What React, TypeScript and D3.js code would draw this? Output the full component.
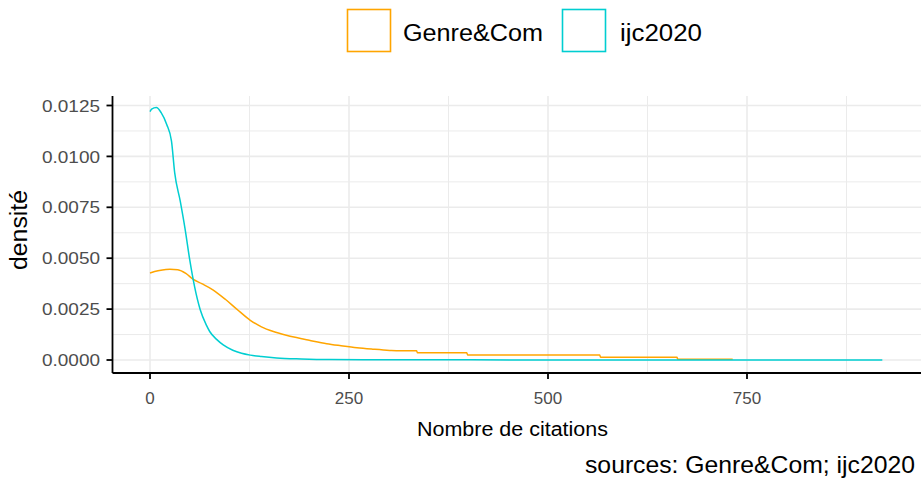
import React from "react";
import * as d3 from "d3";

const genreX = [0, 10, 20, 25, 35, 45, 54, 65, 79, 95, 109, 126, 140, 155, 170, 184, 200, 222, 240, 260, 280, 301, 314, 335, 336, 398, 399, 565, 566, 662, 663, 732];
const genreY = [0.00427, 0.00438, 0.00445, 0.00446, 0.00443, 0.00425, 0.00397, 0.00375, 0.00345, 0.00297, 0.0025, 0.00195, 0.00163, 0.0014, 0.00123, 0.0011, 0.00097, 0.0008, 0.0007, 0.0006, 0.00053, 0.00047, 0.00045, 0.00045, 0.00035, 0.00035, 0.00025, 0.00025, 0.00013, 0.00013, 0.00004, 0.00004];

const ijcX = [0, 2, 8, 14, 21, 27, 31, 38, 44, 50, 56, 63, 71, 75, 84, 92, 104, 115, 126, 140, 159, 190, 226, 300, 500, 700, 920];
const ijcY = [0.0122, 0.01232, 0.0124, 0.01215, 0.01157, 0.01075, 0.0092, 0.0078, 0.00645, 0.0049, 0.0036, 0.00248, 0.0017, 0.0014, 0.001, 0.00074, 0.00048, 0.00033, 0.00024, 0.00017, 0.0001, 0.00005, 0.00002, 0.00001, 0.000005, 0.000003, 0.000002];

const seriesNames = ["Genre&Com", "ijc2020"];
const seriesColors = ["#FFA500", "#00CED1"];
const xTicks = [0, 250, 500, 750];
const yTicks = [0, 0.0025, 0.005, 0.0075, 0.01, 0.0125];

export default function App() {
  const W = 924, H = 481;
  const left = 112.5, right = 921, top = 96, bottom = 373;
  const x = d3.scaleLinear().domain([0, 750]).range([150, 747]);
  const y = d3.scaleLinear().domain([0, 0.0125]).range([360, 105.5]);
  const line = d3.line<[number, number]>().x(d => x(d[0])).y(d => y(d[1])).curve(d3.curveMonotoneX);
  const gData: [number, number][] = genreX.map((v, i) => [v, genreY[i]]);
  const iData: [number, number][] = ijcX.map((v, i) => [v, ijcY[i]]);
  const xMinor = [125, 375, 625, 875];
  const yMinor = [0.00125, 0.00375, 0.00625, 0.00875, 0.01125];
  const font = "'Liberation Sans', Arial, sans-serif";
  const legendLens = [140, 82];
  return (
    <svg width={W} height={H} style={{ position: "absolute", left: 0, top: 0, fontFamily: font }}>
      <rect width={W} height={H} fill="#fff" />
      {xMinor.map(t => <line key={"xm" + t} x1={x(t)} x2={x(t)} y1={top} y2={bottom} stroke="#EBEBEB" strokeWidth={1} />)}
      {yMinor.map(t => <line key={"ym" + t} x1={left} x2={right} y1={y(t)} y2={y(t)} stroke="#EBEBEB" strokeWidth={1} />)}
      {xTicks.map(t => <line key={"xg" + t} x1={x(t)} x2={x(t)} y1={top} y2={bottom} stroke="#EBEBEB" strokeWidth={1.6} />)}
      {yTicks.map(t => <line key={"yg" + t} x1={left} x2={right} y1={y(t)} y2={y(t)} stroke="#EBEBEB" strokeWidth={1.6} />)}
      <path d={line(gData) || ""} fill="none" stroke={seriesColors[0]} strokeWidth={1.5} />
      <path d={line(iData) || ""} fill="none" stroke={seriesColors[1]} strokeWidth={1.5} />
      <line x1={left} x2={left} y1={top} y2={bottom} stroke="#000" strokeWidth={1.8} />
      <line x1={left} x2={right} y1={bottom} y2={bottom} stroke="#000" strokeWidth={1.8} />
      {yTicks.map(t => (
        <g key={"yt" + t}>
          <line x1={left - 6} x2={left} y1={y(t)} y2={y(t)} stroke="#000" strokeWidth={1.8} />
          <text x={100} y={y(t)} dy="0.36em" textAnchor="end" fontSize={17} fill="#4D4D4D" textLength={58} lengthAdjust="spacingAndGlyphs">{t.toFixed(4)}</text>
        </g>
      ))}
      {xTicks.map(t => (
        <g key={"xt" + t}>
          <line x1={x(t)} x2={x(t)} y1={bottom} y2={bottom + 6} stroke="#000" strokeWidth={1.8} />
          <text x={x(t)} y={404} textAnchor="middle" fontSize={17} fill="#4D4D4D">{t}</text>
        </g>
      ))}
      <text x={512.5} y={436} textAnchor="middle" fontSize={20} fill="#000" textLength={191} lengthAdjust="spacingAndGlyphs">Nombre de citations</text>
      <text transform={`translate(27,230) rotate(-90)`} textAnchor="middle" fontSize={23} fill="#000" textLength={80} lengthAdjust="spacingAndGlyphs">densité</text>
      <text x={915} y={473} textAnchor="end" fontSize={24} fill="#000" textLength={330} lengthAdjust="spacingAndGlyphs">sources: Genre&amp;Com; ijc2020</text>
      {seriesNames.map((n, i) => {
        const lx = i === 0 ? 347.5 : 562.5;
        const tx = i === 0 ? 403 : 620;
        return (
          <g key={n}>
            <rect x={lx} y={9.5} width={43} height={42} fill="#fff" stroke={seriesColors[i]} strokeWidth={1.6} />
            <text x={tx} y={41} fontSize={23} fill="#000" textLength={legendLens[i]} lengthAdjust="spacingAndGlyphs">{n}</text>
          </g>
        );
      })}
    </svg>
  );
}
